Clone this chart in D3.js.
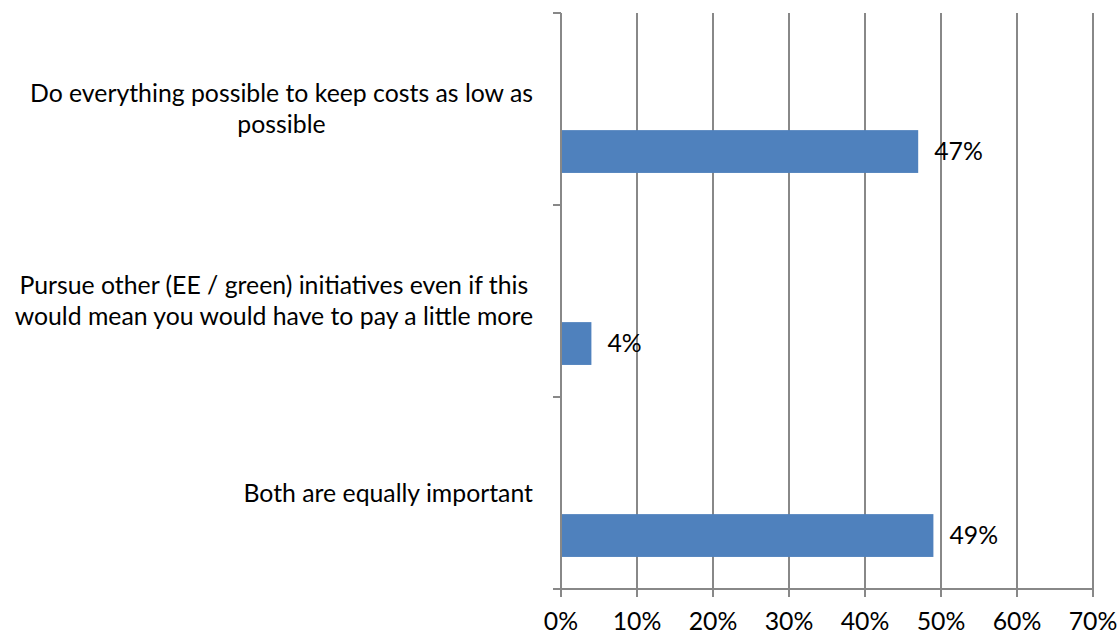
<!DOCTYPE html>
<html><head><meta charset="utf-8">
<script src="https://cdn.jsdelivr.net/npm/d3@7"></script>
<style>body{margin:0;background:#fff;} text{font-family:Lato,"Open Sans",sans-serif;}</style>
</head><body>
<svg id="chart" width="1119" height="635"></svg>
<script>
const categories = [
  ["Do everything possible to keep costs as low as", "possible"],
  ["Pursue other (EE / green) initiatives even if this", "would mean you would have to pay a little more"],
  ["Both are equally important"]
];
const values = [47, 4, 49];
const valueLabels = ["47%", "4%", "49%"];
const xTicks = [0, 10, 20, 30, 40, 50, 60, 70];

(function () {
const svg = d3.select("#chart");
const pLeft = 561, pRight = 1093, pTop = 13, pBottom = 589;
const fs = 24.8;
const x = d3.scaleLinear().domain([0, 70]).range([pLeft, pRight]);
const y = d3.scaleBand().domain(d3.range(categories.length)).range([pTop, pBottom]);
const grid = "#888888";

// gridlines
svg.append("g").selectAll("line").data(xTicks.slice(1)).join("line")
  .attr("x1", d => x(d)).attr("x2", d => x(d)).attr("y1", pTop).attr("y2", pBottom)
  .attr("stroke", grid).attr("stroke-width", 2);

// bars
const bw = y.bandwidth();
svg.append("g").selectAll("rect").data(values).join("rect")
  .attr("x", x(0)).attr("y", (d, i) => y(i) + bw * 0.61)
  .attr("width", d => x(d) - x(0)).attr("height", bw * 0.223)
  .attr("fill", "#4F81BD");

// value labels
svg.append("g").selectAll("text").data(values).join("text")
  .attr("x", d => x(d) + 16).attr("y", (d, i) => y(i) + bw * 0.61 + bw * 0.1115)
  .attr("dy", "0.35em").attr("font-size", fs).attr("fill", "#000")
  .text((d, i) => valueLabels[i]);

// y axis
svg.append("line").attr("x1", pLeft).attr("x2", pLeft).attr("y1", pTop).attr("y2", pBottom + 8)
  .attr("stroke", grid).attr("stroke-width", 2);
const yTicks = d3.range(categories.length + 1).map(i => pTop + i * bw);
svg.append("g").selectAll("line").data(yTicks).join("line")
  .attr("x1", pLeft - 8).attr("x2", pLeft).attr("y1", d => d).attr("y2", d => d)
  .attr("stroke", grid).attr("stroke-width", 2);

// x axis
svg.append("line").attr("x1", pLeft - 8).attr("x2", pRight).attr("y1", pBottom).attr("y2", pBottom)
  .attr("stroke", grid).attr("stroke-width", 2);
svg.append("g").selectAll("line").data(xTicks).join("line")
  .attr("x1", d => x(d)).attr("x2", d => x(d)).attr("y1", pBottom).attr("y2", pBottom + 8)
  .attr("stroke", grid).attr("stroke-width", 2);
svg.append("g").selectAll("text").data(xTicks).join("text")
  .attr("x", d => x(d)).attr("y", 621).attr("dy", "0.35em")
  .attr("text-anchor", "middle").attr("font-size", fs).attr("fill", "#000")
  .text(d => d + "%");

// category labels
const labelRight = 533, lineH = 31;
categories.forEach((lines, i) => {
  const g = svg.append("g");
  const texts = lines.map(l => g.append("text").attr("font-size", fs).attr("fill", "#000").text(l));
  const maxW = d3.max(texts, t => t.node().getComputedTextLength());
  const cx = labelRight - maxW / 2;
  const cy = y(i) + bw / 2;
  texts.forEach((t, j) => {
    t.attr("x", cx).attr("text-anchor", "middle")
     .attr("y", cy + (j - (lines.length - 1) / 2) * lineH).attr("dy", "0.35em");
  });
});
})();
</script>
</body></html>
